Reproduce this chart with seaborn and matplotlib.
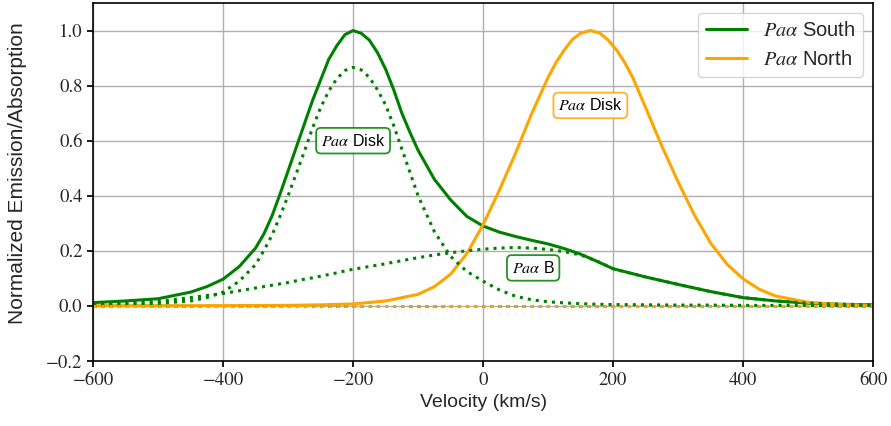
import matplotlib
matplotlib.use("Agg")
import matplotlib.pyplot as plt
import seaborn as sns
import pandas as pd

# --- Data ---
# Paα South: total profile and its two components (Disk + B)
v_south = [-600, -550, -500, -450, -425, -400, -375, -350, -337.5, -325, -312.5, -300, -287.5, -275, -262.5, -250,
           -237.5, -225, -212.5, -200, -187.5, -175, -162.5, -150, -137.5, -125, -112.5, -100,
           -75, -50, -25, 0, 25, 50, 75, 100, 125, 150, 175, 200, 250,
           300, 350, 400, 450, 500, 550, 600]
south_total = [0.012, 0.018, 0.026, 0.05, 0.07, 0.097, 0.143, 0.21, 0.26, 0.325, 0.405, 0.49, 0.575, 0.66, 0.745, 0.82,
               0.895, 0.945, 0.985, 1.0, 0.99, 0.965, 0.92, 0.86, 0.785, 0.70, 0.63, 0.565,
               0.46, 0.385, 0.325, 0.29, 0.268, 0.252, 0.238, 0.225, 0.208, 0.188, 0.162, 0.135, 0.105,
               0.078, 0.052, 0.030, 0.018, 0.010, 0.006, 0.004]
south_disk = [0.004, 0.006, 0.009, 0.018, 0.03, 0.05, 0.09, 0.15, 0.2, 0.255, 0.325, 0.40, 0.48, 0.56, 0.645, 0.72,
              0.78, 0.825, 0.855, 0.866, 0.857, 0.83, 0.785, 0.73, 0.655, 0.57, 0.485, 0.40,
              0.27, 0.18, 0.125, 0.09, 0.058, 0.035, 0.022, 0.015, 0.011, 0.008, 0.006, 0.005, 0.004,
              0.003, 0.003, 0.002, 0.002, 0.002, 0.001, 0.001]
south_b = [0.008, 0.012, 0.016, 0.03, 0.038, 0.045, 0.055, 0.065, 0.07, 0.075, 0.08, 0.085, 0.091, 0.097, 0.102, 0.108,
           0.114, 0.12, 0.127, 0.133, 0.138, 0.143, 0.148, 0.153, 0.159, 0.164, 0.17, 0.175,
           0.185, 0.193, 0.200, 0.206, 0.210, 0.212, 0.210, 0.205, 0.197, 0.185, 0.163, 0.135, 0.105,
           0.078, 0.052, 0.030, 0.018, 0.010, 0.006, 0.004]

# Paα North: single disk profile
v_north = [-600, -500, -400, -300, -250, -200, -150, -100, -75, -50, -25, 0, 25, 50, 75,
           100, 112.5, 125, 137.5, 150, 165, 180, 192.5, 205, 217.5, 230, 250, 275, 300, 325,
           350, 375, 400, 425, 450, 500, 550, 600]
north_total = [0.001, 0.001, 0.001, 0.002, 0.004, 0.007, 0.018, 0.042, 0.07, 0.115, 0.19, 0.295, 0.42, 0.555, 0.70,
               0.83, 0.885, 0.93, 0.968, 0.99, 1.0, 0.99, 0.965, 0.93, 0.885, 0.83, 0.72, 0.58, 0.45, 0.33,
               0.228, 0.152, 0.098, 0.06, 0.036, 0.013, 0.005, 0.002]

# absorption components (flat at zero)
v_abs = [-600, 600]
abs_zero = [0.0, 0.0]

labels = ["$Pa\\alpha$ Disk", "$Pa\\alpha$ B", "$Pa\\alpha$ Disk"]
label_pos = [(-200, 0.60), (77, 0.138), (165, 0.728)]
label_colors = ["green", "green", "orange"]

# --- Style ---
sns.set_theme(style="ticks")
plt.rcParams['font.family'] = ['Liberation Sans', 'DejaVu Sans']
plt.rcParams['mathtext.fontset'] = 'stix'

fig = plt.figure(figsize=(8.91, 4.26), dpi=100)
ax = fig.add_axes([0.1044, 0.1526, 0.8756, 0.8404])

df_south = pd.DataFrame({'v': v_south, 'total': south_total, 'disk': south_disk, 'b': south_b})
df_north = pd.DataFrame({'v': v_north, 'total': north_total})
df_abs = pd.DataFrame({'v': v_abs, 'zero': abs_zero})

sns.lineplot(data=df_south, x='v', y='total', color='green', lw=2.2, label='$Pa\\alpha$ South', ax=ax)
sns.lineplot(data=df_north, x='v', y='total', color='orange', lw=2.2, label='$Pa\\alpha$ North', ax=ax)
sns.lineplot(data=df_south, x='v', y='disk', color='green', lw=2.2, ls=':', ax=ax)
sns.lineplot(data=df_south, x='v', y='b', color='green', lw=2.2, ls=':', ax=ax)
sns.lineplot(data=df_abs, x='v', y='zero', color='green', lw=2.2, ls=':', ax=ax)
sns.lineplot(data=df_abs, x='v', y='zero', color='orange', lw=2.2, ls=':', ax=ax)

for txt, (x, y), c in zip(labels, label_pos, label_colors):
    ax.text(x, y, txt, ha='center', va='center', fontsize=11.5, color='black',
            bbox=dict(boxstyle='round,pad=0.3', fc='white', ec=c, lw=1.3, alpha=0.85))

# --- Axes ---
ax.set_xlim(-600, 600)
ax.set_ylim(-0.2, 1.1)
ax.set_xticks([-600, -400, -200, 0, 200, 400, 600])
ax.set_yticks([-0.2, 0.0, 0.2, 0.4, 0.6, 0.8, 1.0])
ax.grid(True, color='#b0b0b0', lw=1)
ax.tick_params(labelsize=13.5, direction='out', length=4, color='black',
               labelfontfamily='STIXGeneral')
for s in ax.spines.values():
    s.set_color('black')
    s.set_linewidth(1.2)
ax.set_xlabel('Velocity (km/s)', fontsize=14)
ax.set_ylabel('Normalized Emission/Absorption', fontsize=15)
ax.yaxis.set_label_coords(-0.085, 0.525)
ax.legend(loc='upper right', fontsize=14.5, frameon=True)

plt.savefig('out.png', dpi=100)
